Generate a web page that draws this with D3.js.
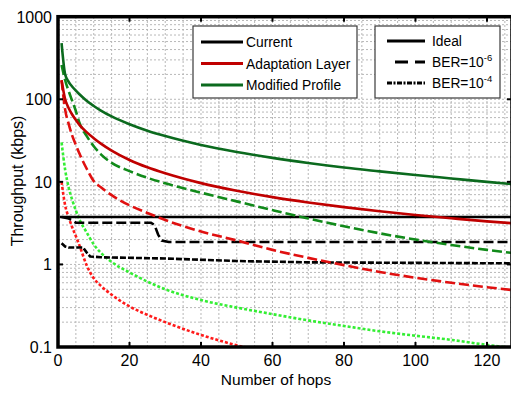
<!DOCTYPE html>
<meta charset="utf-8">
<style>
html, body {
  margin: 0;
  overflow: hidden;
  width: 100%;
  height: 100%;
  background: #fff;
}
text {
  font-family: "Liberation Sans", Arial, sans-serif;
}
</style>
<body>
<script src="https://cdn.jsdelivr.net/npm/d3@7"></script>
<script>
var width = 511,
    height = 394;

// hop counts used for the smooth curves
var hops = [1, 2, 3, 4, 5, 6, 8, 10, 12, 15, 20, 25, 30, 40, 50, 60, 70, 80, 90, 100, 110, 120, 127];

// Modified Profile
var modIdeal = [480, 200, 162, 142, 127, 115, 96, 83, 73, 62, 49.9, 41.7, 35.9, 28, 23, 19.5, 16.9, 14.9, 13.4, 12.1, 11, 10, 9.4];
var modBer6  = [260, 170, 125, 95, 72, 52, 36, 27, 21.5, 17, 13.5, 11.2, 9.6, 7.4, 5.8, 4.55, 3.6, 2.9, 2.38, 2.0, 1.72, 1.5, 1.38];
var modBer4  = [30, 14, 8.5, 6, 4.5, 3.5, 2.45, 1.75, 1.38, 1.07, 0.8, 0.62, 0.5, 0.37, 0.3, 0.25, 0.21, 0.18, 0.155, 0.137, 0.122, 0.106, 0.097];

// Adaptation Layer
var adaIdeal = [170, 100, 78, 65, 56, 49, 40, 33.8, 29, 23.9, 18.4, 15, 12.7, 9.65, 7.8, 6.53, 5.63, 4.94, 4.4, 3.97, 3.62, 3.32, 3.16];
var adaBer6  = [170, 75, 50, 36, 28, 22, 14.5, 10.2, 8.6, 6.9, 5.2, 4.2, 3.45, 2.5, 1.95, 1.5, 1.2, 0.98, 0.81, 0.69, 0.6, 0.53, 0.49];
var adaBer4Hops = [1, 2, 3, 4, 5, 6, 8, 10, 12, 15, 20, 25, 30, 40, 50, 55];
var adaBer4  = [10, 5.2, 3.7, 2.8, 2.2, 1.7, 0.98, 0.68, 0.55, 0.43, 0.31, 0.245, 0.2, 0.14, 0.105, 0.093];

// Current (step-like)
var curIdealHops = [0.5, 127];
var curIdeal     = [3.75, 3.75];
var curBer6Hops  = [1, 3, 5, 26, 27, 28, 29, 31, 127];
var curBer6      = [3.75, 3.6, 3.2, 3.2, 3.0, 2.3, 1.95, 1.87, 1.87];
var curBer4Hops  = [1, 2, 3, 7, 8, 9, 12, 30, 50, 70, 127];
var curBer4      = [1.8, 1.65, 1.6, 1.6, 1.4, 1.25, 1.22, 1.18, 1.1, 1.06, 1.03];

var xTicks = [0, 20, 40, 60, 80, 100, 120];
var yTicks = [0.1, 1, 10, 100, 1000];
var yTickLabels = ["0.1", "1", "10", "100", "1000"];

var legendSeries = ["Current", "Adaptation Layer", "Modified Profile"];
var legendStyles = ["Ideal", "BER=10", "BER=10"];
var legendExp = ["", "-6", "-4"];

var colors = {
  ada: ["#c00000", "#e01010", "#ff1a1a"],
  mod: ["#0b6a1e", "#118a1a", "#33ee33"]
};
var dashes = [null, "10,4", "3,2"];
var blackDashes = [null, "10,4", "6,2"];

var svg = d3.select("body").append("svg")
    .attr("width", width)
    .attr("height", height);

var x = d3.scaleLinear().domain([0, 127]).range([58, 512]);
var y = d3.scaleLog().domain([0.1, 1000]).range([347, 16.7]);

// grid
var gx = d3.range(5, 127, 5);
var gy = [];
[0.1, 1, 10, 100].forEach(function(d) {
  for (var k = 1; k <= 9; k++) {
    if (k * d > 0.1) gy.push(k * d);
  }
});

svg.selectAll(".gx").data(gx).enter().append("line")
    .attr("x1", function(d) { return x(d); })
    .attr("x2", function(d) { return x(d); })
    .attr("y1", y(0.1)).attr("y2", y(1000))
    .attr("stroke", "#b8b8b8").attr("stroke-dasharray", "2,2");

svg.selectAll(".gy").data(gy).enter().append("line")
    .attr("y1", function(d) { return y(d); })
    .attr("y2", function(d) { return y(d); })
    .attr("x1", x(0)).attr("x2", x(127))
    .attr("stroke", "#b8b8b8").attr("stroke-dasharray", "2,2");

svg.append("clipPath").attr("id", "clip")
  .append("rect")
    .attr("x", x(0)).attr("y", y(1000))
    .attr("width", x(127) - x(0)).attr("height", y(0.1) - y(1000));

var line = d3.line()
    .x(function(d) { return x(d[0]); })
    .y(function(d) { return y(d[1]); })
    .curve(d3.curveMonotoneX);

var stepLine = d3.line()
    .x(function(d) { return x(d[0]); })
    .y(function(d) { return y(d[1]); });

function drawSeries(xs, ys, color, dash, gen) {
  svg.append("path")
      .datum(d3.zip(xs, ys))
      .attr("clip-path", "url(#clip)")
      .attr("fill", "none")
      .attr("stroke", color)
      .attr("stroke-width", 2.6)
      .attr("stroke-dasharray", dash)
      .attr("d", gen || line);
}

drawSeries(adaBer4Hops, adaBer4, colors.ada[2], dashes[2]);
drawSeries(hops, modBer4, colors.mod[2], dashes[2]);
drawSeries(curBer4Hops, curBer4, "#000", blackDashes[2], stepLine);
drawSeries(curBer6Hops, curBer6, "#000", blackDashes[1], stepLine);
drawSeries(curIdealHops, curIdeal, "#000", null, stepLine);
drawSeries(hops, adaBer6, colors.ada[1], dashes[1]);
drawSeries(hops, modBer6, colors.mod[1], dashes[1]);
drawSeries(hops, adaIdeal, colors.ada[0], null);
drawSeries(hops, modIdeal, colors.mod[0], null);

// frame and ticks
svg.selectAll(".xt").data(xTicks).enter().append("line")
    .attr("x1", function(d) { return x(d); })
    .attr("x2", function(d) { return x(d); })
    .attr("y1", y(0.1)).attr("y2", y(0.1) - 5)
    .attr("stroke", "#000").attr("stroke-width", 2);
svg.selectAll(".xt2").data(xTicks).enter().append("line")
    .attr("x1", function(d) { return x(d); })
    .attr("x2", function(d) { return x(d); })
    .attr("y1", y(1000)).attr("y2", y(1000) + 5)
    .attr("stroke", "#000").attr("stroke-width", 2);
svg.selectAll(".yt").data(yTicks).enter().append("line")
    .attr("y1", function(d) { return y(d); })
    .attr("y2", function(d) { return y(d); })
    .attr("x1", x(0)).attr("x2", x(0) + 5)
    .attr("stroke", "#000").attr("stroke-width", 2);
svg.selectAll(".yt2").data(yTicks).enter().append("line")
    .attr("y1", function(d) { return y(d); })
    .attr("y2", function(d) { return y(d); })
    .attr("x1", x(127)).attr("x2", x(127) - 5)
    .attr("stroke", "#000").attr("stroke-width", 2);

svg.append("rect")
    .attr("x", x(0)).attr("y", y(1000))
    .attr("width", x(127) - x(0)).attr("height", y(0.1) - y(1000))
    .attr("fill", "none").attr("stroke", "#000").attr("stroke-width", 3.5);

// tick labels
svg.selectAll(".xl").data(xTicks).enter().append("text")
    .attr("x", function(d) { return x(d); })
    .attr("y", 366)
    .attr("text-anchor", "middle")
    .attr("font-size", 16)
    .text(function(d) { return d; });

svg.selectAll(".yl").data(yTicks).enter().append("text")
    .attr("x", 52)
    .attr("y", function(d) { return y(d) + 6; })
    .attr("text-anchor", "end")
    .attr("font-size", 16)
    .text(function(d, i) { return yTickLabels[i]; });

svg.append("text")
    .attr("x", 276).attr("y", 385)
    .attr("text-anchor", "middle")
    .attr("font-size", 15.5)
    .text("Number of hops");

svg.append("text")
    .attr("transform", "translate(23,181) rotate(-90)")
    .attr("text-anchor", "middle")
    .attr("font-size", 16)
    .text("Throughput (kbps)");

// legend 1: series
var lg1 = svg.append("g");
lg1.append("rect")
    .attr("x", 193).attr("y", 26).attr("width", 164).attr("height", 72)
    .attr("fill", "#fff").attr("stroke", "#3a3a3a").attr("stroke-width", 1.2);
var lgColors = ["#000", colors.ada[0], colors.mod[0]];
legendSeries.forEach(function(name, i) {
  var yy = 42 + i * 21.5;
  lg1.append("line")
      .attr("x1", 201).attr("x2", 243).attr("y1", yy).attr("y2", yy)
      .attr("stroke", lgColors[i]).attr("stroke-width", 3);
  lg1.append("text")
      .attr("x", 246).attr("y", yy + 5)
      .attr("font-size", 13.8)
      .text(name);
});

// legend 2: line styles
var lg2 = svg.append("g");
lg2.append("rect")
    .attr("x", 375).attr("y", 26).attr("width", 125).attr("height", 72)
    .attr("fill", "#fff").attr("stroke", "#3a3a3a").attr("stroke-width", 1.2);
var lg2Dash = [null, "13,7", "5,1.5,2,1.5"];
var lg2X1 = [387, 395, 387];
legendStyles.forEach(function(name, i) {
  var yy = 41 + i * 21;
  lg2.append("line")
      .attr("x1", lg2X1[i]).attr("x2", 425).attr("y1", yy).attr("y2", yy)
      .attr("stroke", "#000").attr("stroke-width", 3)
      .attr("stroke-dasharray", lg2Dash[i]);
  var t = lg2.append("text")
      .attr("x", 432).attr("y", yy + 5)
      .attr("font-size", 13.8)
      .text(name);
  if (legendExp[i]) {
    t.append("tspan")
        .attr("dy", -6)
        .attr("font-size", 9.5)
        .text(legendExp[i]);
  }
});
</script>
</body>
